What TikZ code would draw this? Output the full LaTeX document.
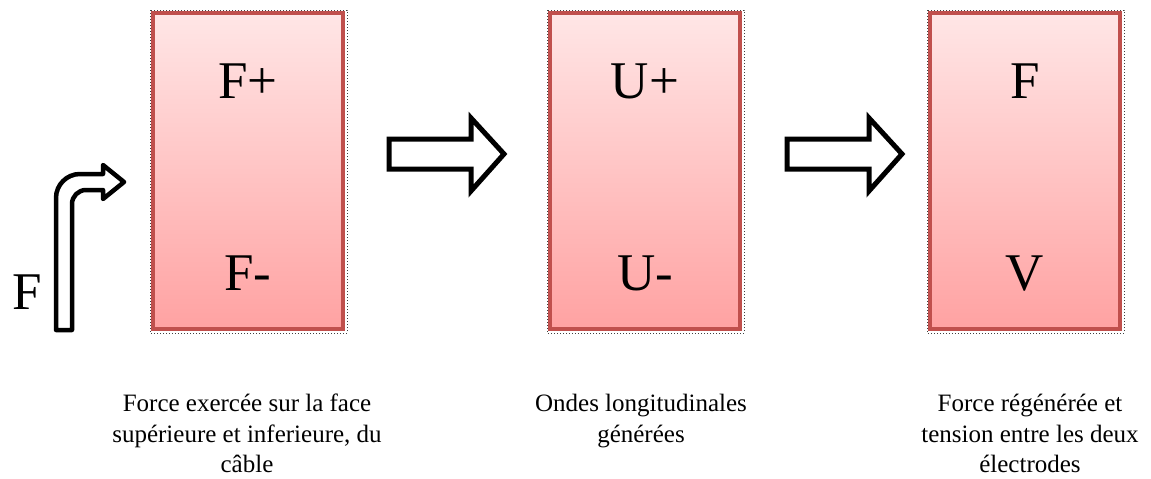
\documentclass[tikz,border=0pt]{standalone}
\usepackage{fontspec}
\setmainfont{Liberation Serif}
\usetikzlibrary{calc}
\definecolor{boxedge}{HTML}{C0504D}
\definecolor{boxtop}{HTML}{FFE6E6}
\definecolor{boxbot}{HTML}{FFA2A2}
\tikzset{
  box/.style={draw=boxedge, line width=3.2pt, top color=boxtop, bottom color=boxbot,
    minimum width=190pt, minimum height=316pt, inner sep=0pt},
  halo/.style={draw=black!75, dotted, line width=1pt},
  big/.style={font=\fontsize{53}{53}\selectfont, anchor=base, inner sep=0pt},
  caption/.style={font=\fontsize{25}{30.5}\selectfont, anchor=north, align=center, inner sep=0pt},
  hollow/.style={draw=black, fill=white, line width=5pt, line join=miter},
  bent/.style={draw=black, fill=white, line width=4.5pt, line join=round}
}
\begin{document}
\begin{tikzpicture}[x=1pt,y=-1pt]
\useasboundingbox (0,0) rectangle (1151,479);
% boxes
\foreach \n/\cx in {b1/248, b2/645, b3/1025}{
  \draw[halo] (\cx-98,10) rectangle (\cx+99,333);
  \node[box] (\n) at (\cx,171) {};
}
% labels in boxes
\node[big] (l1a) at (248,98) {F+};
\node[big] (l1b) at (248,290) {F-};
\node[big] (l2a) at (645,98) {U+};
\node[big] (l2b) at (645,290) {U-};
\node[big] (l3a) at (1025,98) {F};
\node[big] (l3b) at (1025,290) {V};
% left F
\node[big] (fin) at (27,309) {F};
% bent arrow
\draw[bent] (56,330) -- (56,198) arc[start angle=180, end angle=270, radius=24] -- (103,174)
  -- (103,165) -- (124,182) -- (103,199) -- (103,190) -- (86,190)
  arc[start angle=270, end angle=180, radius=14] -- (72,330) -- cycle;
% hollow arrows
\foreach \x in {389, 787}{
  \draw[hollow] (\x,139) -- (\x+82,139) -- (\x+82,118) -- (\x+115,154)
    -- (\x+82,191) -- (\x+82,169) -- (\x,169) -- cycle;
}
% captions
\node[caption] (c1) at (247,394) {Force exercée sur la face\\supérieure et inferieure, du\\câble};
\node[caption] (c2) at (641,394) {Ondes longitudinales\\générées};
\node[caption] (c3) at (1030,394) {Force régénérée et\\tension entre les deux\\électrodes};
\end{tikzpicture}
\end{document}
